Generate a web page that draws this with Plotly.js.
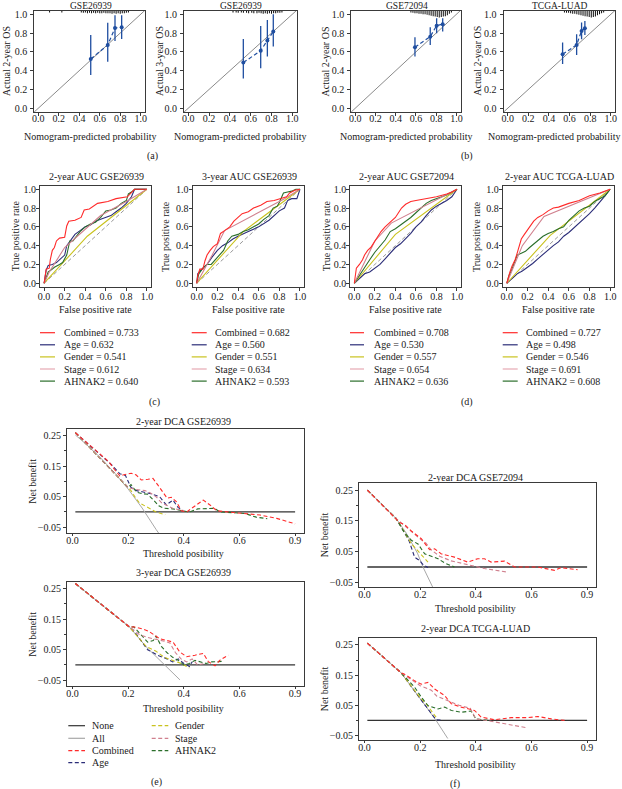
<!DOCTYPE html>
<html><head><meta charset="utf-8">
<script src="https://cdn.plot.ly/plotly-3.0.1.min.js"></script>
<style>body{margin:0;padding:0;background:#fff}#chart{width:622px;height:789px}</style>
</head><body><div id="chart"></div>
<script>
const W = 622, H = 789;
const FONT = 'Liberation Serif, Times New Roman, serif';

// ================= DATA =================
// (a)/(b) calibration
const calTitles = ['GSE26939', 'GSE26939', 'GSE72094', 'TCGA-LUAD'];
const calYTitles = ['Actual 2-year OS', 'Actual 3-year OS', 'Actual 2-year OS', 'Actual 2-year OS'];
const calPred1 = [0.512, 0.678, 0.749, 0.814], calObs1 = [0.524, 0.673, 0.854, 0.861], calLo1 = [0.354, 0.496, 0.716, 0.737], calHi1 = [0.78, 0.91, 0.99, 0.99];
const calPred2 = [0.529, 0.696, 0.760, 0.817], calObs2 = [0.486, 0.613, 0.720, 0.816], calLo2 = [0.316, 0.426, 0.550, 0.656], calHi2 = [0.738, 0.876, 0.940, 1.0];
const calPred3 = [0.590, 0.741, 0.804, 0.864], calObs3 = [0.649, 0.762, 0.879, 0.894], calLo3 = [0.550, 0.674, 0.798, 0.816], calHi3 = [0.755, 0.862, 0.957, 0.957];
const calPred4 = [0.532, 0.668, 0.716, 0.748], calObs4 = [0.574, 0.674, 0.823, 0.851], calLo4 = [0.472, 0.567, 0.734, 0.780], calHi4 = [0.699, 0.787, 0.911, 0.929];
// spike histograms of predicted probabilities (top rug)
const rug1X = [0.11, 0.23, 0.42, 0.44, 0.46, 0.48, 0.50, 0.52, 0.54, 0.56, 0.58, 0.60, 0.62, 0.64, 0.66, 0.68, 0.70, 0.72, 0.74, 0.76, 0.78, 0.80, 0.82, 0.84, 0.86, 0.88];
const rug1H = [0.02, 0.02, 0.02, 0.025, 0.02, 0.03, 0.025, 0.03, 0.025, 0.03, 0.025, 0.03, 0.03, 0.025, 0.03, 0.03, 0.03, 0.035, 0.03, 0.035, 0.03, 0.035, 0.03, 0.03, 0.025, 0.02];
const rug2X = [0.43, 0.46, 0.48, 0.51, 0.53, 0.56, 0.58, 0.61, 0.63, 0.66, 0.68, 0.70, 0.72, 0.74, 0.76, 0.78, 0.80, 0.82, 0.84, 0.86, 0.88, 0.90];
const rug2H = [0.02, 0.02, 0.025, 0.02, 0.025, 0.025, 0.03, 0.025, 0.03, 0.03, 0.025, 0.03, 0.035, 0.03, 0.035, 0.03, 0.035, 0.03, 0.03, 0.025, 0.025, 0.02];
const rug3X = [0.55, 0.57, 0.59, 0.61, 0.63, 0.65, 0.67, 0.69, 0.71, 0.73, 0.75, 0.77, 0.79, 0.81, 0.83, 0.85, 0.87, 0.89, 0.91, 0.93, 0.95];
const rug3H = [0.02, 0.025, 0.03, 0.03, 0.035, 0.035, 0.04, 0.04, 0.045, 0.05, 0.055, 0.06, 0.065, 0.07, 0.075, 0.07, 0.065, 0.06, 0.05, 0.035, 0.02];
const rug4X = [0.55, 0.57, 0.59, 0.61, 0.63, 0.65, 0.67, 0.69, 0.71, 0.73, 0.75, 0.77, 0.79, 0.81, 0.83, 0.85, 0.87, 0.89, 0.91, 0.93];
const rug4H = [0.02, 0.025, 0.025, 0.03, 0.035, 0.035, 0.04, 0.045, 0.05, 0.055, 0.06, 0.065, 0.07, 0.075, 0.07, 0.065, 0.05, 0.04, 0.03, 0.02];
const idealLine = [-0.05, 1.05];

// (c)/(d) ROC
const rocModels = ['Combined', 'Age', 'Gender', 'Stage', 'AHNAK2'];
const rocTitles = ['2-year AUC GSE26939', '3-year AUC GSE26939', '2-year AUC GSE72094', '2-year AUC TCGA-LUAD'];
const auc1 = ['0.733', '0.632', '0.541', '0.612', '0.640'];
const auc2 = ['0.682', '0.560', '0.551', '0.634', '0.593'];
const auc3 = ['0.708', '0.530', '0.557', '0.654', '0.636'];
const auc4 = ['0.727', '0.498', '0.546', '0.691', '0.608'];
const chanceLine = [0, 1];

const roc1Comb = [[0,0.01,0.02,0.05,0.06,0.08,0.10,0.12,0.15,0.20,0.22,0.24,0.30,0.36,0.39,0.44,0.52,0.62,0.70,0.81,0.86,0.88,1],
                  [0,0.08,0.15,0.16,0.25,0.35,0.38,0.45,0.48,0.49,0.61,0.66,0.67,0.70,0.78,0.79,0.85,0.87,0.90,0.92,0.97,1,1]];
const roc1Age = [[0,0.01,0.02,0.04,0.08,0.12,0.16,0.20,0.22,0.25,0.30,0.35,0.40,0.45,0.50,0.55,0.60,0.65,0.70,0.75,0.80,0.85,0.88,1],
                 [0,0.08,0.14,0.19,0.20,0.22,0.26,0.30,0.40,0.45,0.52,0.56,0.60,0.62,0.66,0.68,0.70,0.72,0.76,0.80,0.85,0.92,1,1]];
const roc1Gen = [[0,0.42,1],[0,0.50,1]];
const roc1Stg = [[0,0.05,0.20,0.55,0.80,1],[0,0.12,0.38,0.72,0.87,1]];
const roc1Ahn = [[0,0.02,0.04,0.08,0.10,0.15,0.18,0.22,0.25,0.28,0.30,0.35,0.40,0.45,0.50,0.55,0.60,0.65,0.70,0.75,0.80,0.82,0.85,0.88,1],
                 [0,0.06,0.12,0.15,0.17,0.20,0.22,0.30,0.45,0.45,0.48,0.55,0.60,0.63,0.65,0.70,0.77,0.78,0.80,0.85,0.88,0.95,0.97,1,1]];

const roc2Comb = [[0,0.01,0.03,0.06,0.08,0.10,0.13,0.16,0.20,0.23,0.27,0.32,0.36,0.40,0.44,0.50,0.55,0.62,0.68,0.75,0.81,0.87,0.90,0.95,1],
                  [0,0.08,0.15,0.15,0.24,0.30,0.35,0.39,0.42,0.53,0.56,0.60,0.66,0.70,0.74,0.76,0.80,0.83,0.87,0.88,0.90,0.92,0.96,0.99,1]];
const roc2Age = [[0,0.01,0.05,0.10,0.15,0.20,0.25,0.30,0.35,0.40,0.50,0.60,0.70,0.75,0.80,0.85,0.88,0.92,0.97,1],
                 [0,0.10,0.15,0.20,0.28,0.35,0.40,0.43,0.47,0.50,0.55,0.60,0.67,0.72,0.77,0.80,0.88,0.90,0.90,1]];
const roc2Gen = [[0,0.45,1],[0,0.55,1]];
const roc2Stg = [[0,0.05,0.15,0.27,0.85,1],[0,0.10,0.30,0.56,0.90,1]];
const roc2Ahn = [[0,0.02,0.06,0.10,0.14,0.18,0.22,0.26,0.30,0.34,0.40,0.45,0.50,0.55,0.60,0.65,0.70,0.74,0.78,0.80,0.84,0.88,0.92,0.96,1],
                 [0,0.10,0.16,0.20,0.20,0.25,0.30,0.35,0.45,0.50,0.52,0.55,0.57,0.60,0.63,0.68,0.72,0.80,0.82,0.86,0.96,0.97,0.98,1,1]];

const roc3Comb = [[0,0.01,0.02,0.05,0.08,0.10,0.13,0.16,0.20,0.23,0.26,0.30,0.33,0.36,0.40,0.43,0.46,0.50,0.55,0.60,0.65,0.70,0.80,0.90,0.95,1],
                  [0,0.10,0.16,0.20,0.25,0.30,0.35,0.38,0.45,0.50,0.55,0.60,0.63,0.65,0.70,0.75,0.80,0.84,0.87,0.88,0.89,0.90,0.92,0.95,0.97,1]];
const roc3Age = [[0,0.03,0.06,0.10,0.15,0.20,0.25,0.30,0.35,0.40,0.45,0.50,0.55,0.60,0.65,0.70,0.75,0.80,0.85,0.90,0.95,1],
                 [0,0.03,0.07,0.10,0.12,0.16,0.20,0.26,0.32,0.38,0.42,0.47,0.53,0.60,0.65,0.72,0.78,0.82,0.85,0.88,0.92,1]];
const roc3Gen = [[0,0.40,1],[0,0.52,1]];
const roc3Stg = [[0,0.20,0.36,0.95,1],[0,0.45,0.64,0.97,1]];
const roc3Ahn = [[0,0.03,0.06,0.10,0.15,0.20,0.25,0.30,0.35,0.40,0.45,0.50,0.55,0.60,0.65,0.70,0.75,0.80,0.85,0.90,0.95,1],
                 [0,0.05,0.10,0.18,0.25,0.33,0.40,0.46,0.55,0.58,0.62,0.66,0.70,0.75,0.80,0.85,0.88,0.90,0.92,0.94,0.97,1]];

const roc4Comb = [[0,0.01,0.03,0.05,0.08,0.10,0.12,0.14,0.17,0.20,0.23,0.26,0.30,0.35,0.40,0.45,0.50,0.55,0.60,0.70,0.80,0.90,0.95,1],
                  [0,0.05,0.12,0.18,0.25,0.32,0.40,0.47,0.52,0.57,0.62,0.66,0.70,0.73,0.77,0.80,0.81,0.83,0.85,0.88,0.93,0.96,0.98,1]];
const roc4Age = [[0,0.05,0.10,0.15,0.20,0.25,0.30,0.35,0.40,0.45,0.50,0.55,0.60,0.65,0.70,0.75,0.80,0.85,0.90,0.95,1],
                 [0,0.05,0.10,0.13,0.17,0.21,0.26,0.31,0.36,0.40,0.44,0.50,0.54,0.59,0.63,0.69,0.74,0.80,0.86,0.93,1]];
const roc4Gen = [[0,0.42,1],[0,0.51,1]];
const roc4Stg = [[0,0.15,0.36,1],[0,0.40,0.71,1]];
const roc4Ahn = [[0,0.02,0.05,0.08,0.10,0.14,0.18,0.22,0.26,0.30,0.35,0.40,0.45,0.50,0.55,0.60,0.65,0.70,0.75,0.80,0.85,0.90,0.95,1],
                 [0,0.08,0.15,0.25,0.30,0.32,0.34,0.38,0.42,0.45,0.50,0.53,0.55,0.58,0.60,0.67,0.72,0.77,0.80,0.82,0.87,0.90,0.93,1]];

// (e)/(f) decision curves
const dcaTitles = ['2-year DCA GSE26939', '3-year DCA GSE26939', '2-year DCA GSE72094', '2-year DCA TCGA-LUAD'];
const dcaTickVals = [0, 0.2, 0.4, 0.6, 0.8];
const dcaTickText = ['0.0', '0.2', '0.4', '0.6', '0.9'];
const dcaYTicks = [-0.05, 0.05, 0.15, 0.25];
const dcaYTickText = ['\u22120.05', '0.05', '0.15', '0.25'];
const dcaNone = [[0.01, 0.8], [0, 0]];

const dca1All = [[0.01,0.05,0.10,0.15,0.20,0.25,0.30,0.31],[0.2525,0.221,0.178,0.129,0.075,0.013,-0.057,-0.07]];
const dca1Comb = [[0.01,0.13,0.15,0.17,0.181,0.211,0.229,0.247,0.271,0.289,0.307,0.325,0.34,0.355,0.373,0.391,0.41,0.445,0.47,0.494,0.518,0.578,0.674,0.734,0.80],
                  [0.26,0.165,0.14,0.118,0.121,0.127,0.121,0.105,0.107,0.11,0.088,0.066,0.045,0.048,0.034,0.004,0.0,0.023,0.039,0.023,0.004,-0.002,-0.01,-0.021,-0.039]];
const dca1Age = [[0.01,0.14,0.17,0.19,0.21,0.23,0.25,0.277,0.313,0.337,0.361,0.379,0.397],
                 [0.26,0.155,0.125,0.12,0.08,0.07,0.066,0.061,0.05,0.023,0.039,0.015,0.004]];
const dca1Gen = [[0.01,0.20,0.21,0.22,0.24,0.26,0.28,0.30,0.333],[0.26,0.08,0.07,0.055,0.03,0.02,0.01,0.0,-0.009]];
const dca1Stg = [[0.01,0.20,0.22,0.24,0.26,0.28,0.30,0.32,0.34,0.36,0.38,0.40],[0.26,0.08,0.075,0.072,0.07,0.062,0.05,0.03,0.02,0.012,0.008,0.005]];
const dca1Ahn = [[0.01,0.20,0.21,0.23,0.25,0.27,0.29,0.31,0.33,0.36,0.39,0.42,0.45,0.48,0.51,0.53,0.58,0.62,0.66,0.70],
                 [0.26,0.08,0.09,0.065,0.06,0.058,0.04,0.02,0.012,0.01,0.005,0.0,0.01,0.012,0.012,0.0,-0.002,-0.005,-0.017,-0.022]];

const dca2All = [[0.01,0.10,0.205,0.265,0.331,0.386],[0.267,0.2,0.124,0.059,0.0,-0.049]];
const dca2Comb = [[0.01,0.205,0.22,0.253,0.275,0.295,0.313,0.34,0.361,0.385,0.41,0.44,0.47,0.488,0.512,0.53,0.56],
                  [0.267,0.124,0.125,0.118,0.11,0.097,0.086,0.08,0.075,0.043,0.027,0.032,0.038,0.011,-0.003,0.016,0.032]];
const dca2Age = [[0.01,0.205,0.23,0.25,0.27,0.29,0.31,0.34,0.36,0.38,0.40,0.42,0.43],[0.267,0.124,0.1,0.075,0.05,0.04,0.03,0.02,0.01,0.02,0.005,-0.005,0.01]];
const dca2Gen = [[0.01,0.205,0.265,0.30,0.33,0.36,0.39,0.42],[0.267,0.124,0.06,0.045,0.025,0.015,0.005,-0.01]];
const dca2Stg = [[0.01,0.205,0.24,0.27,0.30,0.33,0.35,0.37,0.39,0.41,0.43,0.45,0.47],[0.267,0.124,0.1,0.09,0.085,0.078,0.072,0.04,0.02,0.01,0.02,0.0,0.004]];
const dca2Ahn = [[0.01,0.205,0.22,0.25,0.27,0.29,0.30,0.32,0.34,0.36,0.38,0.40,0.42,0.44,0.46,0.48,0.50,0.52,0.54],
                 [0.267,0.124,0.125,0.095,0.075,0.08,0.095,0.06,0.04,0.025,0.015,0.0,0.005,0.015,0.01,0.005,0.01,0.01,0.012]];

const dca3All = [[0.01,0.114,0.15,0.19,0.21,0.25],[0.25,0.157,0.11,0.045,0.0,-0.075]];
const dca3Comb = [[0.01,0.114,0.125,0.144,0.168,0.204,0.234,0.252,0.275,0.323,0.371,0.407,0.431,0.455,0.503,0.539,0.623,0.683,0.706,0.766],
                  [0.25,0.157,0.145,0.138,0.117,0.092,0.056,0.059,0.043,0.032,0.016,0.027,0.027,0.016,0.019,0.0,0.0,-0.011,-0.002,-0.009]];
const dca3Age = [[0.01,0.114,0.16,0.18,0.198,0.21,0.228],[0.25,0.157,0.085,0.032,0.021,0.008,-0.002]];
const dca3Gen = [[0.01,0.114,0.168,0.204,0.228],[0.25,0.157,0.076,0.038,0.016]];
const dca3Stg = [[0.01,0.114,0.15,0.18,0.204,0.22,0.239,0.27,0.311,0.35,0.383,0.431,0.508],[0.25,0.157,0.13,0.105,0.088,0.078,0.056,0.035,0.02,0.012,0.006,-0.005,-0.016]];
const dca3Ahn = [[0.01,0.114,0.144,0.168,0.192,0.216,0.24,0.264,0.288,0.323],[0.25,0.157,0.111,0.087,0.075,0.043,0.035,0.027,0.013,0.0]];

const dca4All = [[0.01,0.131,0.20,0.257,0.299],[0.256,0.158,0.072,0.0,-0.06]];
const dca4Comb = [[0.01,0.131,0.144,0.18,0.204,0.228,0.252,0.288,0.312,0.347,0.395,0.419,0.467,0.527,0.587,0.623,0.671,0.719],
                  [0.256,0.158,0.153,0.131,0.12,0.126,0.104,0.082,0.055,0.044,0.033,0.011,0.002,0.009,0.009,0.013,0.005,0.0]];
const dca4Age = [[0.01,0.131,0.20,0.24,0.257,0.281],[0.256,0.158,0.072,0.022,0.002,0.001]];
const dca4Gen = [[0.01,0.131,0.20,0.221,0.239,0.257],[0.256,0.158,0.075,0.055,0.033,0.011]];
const dca4Stg = [[0.01,0.131,0.16,0.20,0.24,0.26,0.30,0.34,0.38,0.40,0.45,0.50,0.55,0.58],[0.256,0.158,0.14,0.115,0.1,0.08,0.065,0.05,0.04,0.005,-0.002,-0.01,-0.018,-0.024]];
const dca4Ahn = [[0.01,0.131,0.18,0.204,0.228,0.264,0.288,0.312,0.347,0.383,0.40,0.443],[0.256,0.158,0.11,0.077,0.049,0.038,0.044,0.033,0.027,0.031,0.005,0.0]];

const dcaLegendCol1 = ['None', 'All', 'Combined', 'Age'];
const dcaLegendCol2 = ['Gender', 'Stage', 'AHNAK2'];

// ================= STYLE =================
const COL = {Combined: '#ff2a2a', Age: '#2b2d78', Gender: '#c9c21e', Stage: '#d0808e', AHNAK2: '#2a6e2a',
             None: '#333333', All: '#a8a8a8'};
const BLUE = '#1f4ea0';
const TXT = '#1a1a1a';
const DASH = '4px,2.5px';

const px2x = p => p / W;
const px2y = p => 1 - p / H;

const layout = {
  width: W, height: H, margin: {l: 0, r: 0, t: 0, b: 0},
  paper_bgcolor: '#fff', plot_bgcolor: '#fff', showlegend: false,
  font: {family: FONT, size: 10, color: TXT},
  barmode: 'overlay', annotations: [], shapes: []
};
const traces = [];

function setAxes(n, xpx, ypx, xr, yr, xo, yo) {
  const base = {showline: true, mirror: true, linecolor: '#3a3a3a', linewidth: 1, showgrid: false,
                zeroline: false, ticks: 'outside', ticklen: 3, tickwidth: 1, tickcolor: '#3a3a3a',
                tickfont: {family: FONT, size: 10, color: TXT}, fixedrange: true};
  layout['xaxis' + (n === 1 ? '' : n)] = Object.assign({}, base, {
    domain: [px2x(xpx[0]), px2x(xpx[1])], range: xr, anchor: 'y' + (n === 1 ? '' : n)}, xo || {});
  layout['yaxis' + (n === 1 ? '' : n)] = Object.assign({}, base, {
    domain: [px2y(ypx[1]), px2y(ypx[0])], range: yr, anchor: 'x' + (n === 1 ? '' : n)}, yo || {});
}
function ann(text, x, y, o) {
  layout.annotations.push(Object.assign({text, x: px2x(x), y: px2y(y), xref: 'paper', yref: 'paper',
    showarrow: false, xanchor: 'center', yanchor: 'middle', font: {family: FONT, size: 10, color: TXT}}, o || {}));
}
function legLine(x0, x1, y, color, dash) {
  layout.shapes.push({type: 'line', xref: 'paper', yref: 'paper', x0: px2x(x0), x1: px2x(x1), y0: px2y(y), y1: px2y(y),
    line: {color, width: 1.2, dash: dash || 'solid'}});
}
const ax = n => n === 1 ? ['x', 'y'] : ['x' + n, 'y' + n];

// ---------- calibration ----------
const calData = [
  [calPred1, calObs1, calLo1, calHi1, rug1X, rug1H],
  [calPred2, calObs2, calLo2, calHi2, rug2X, rug2H],
  [calPred3, calObs3, calLo3, calHi3, rug3X, rug3H],
  [calPred4, calObs4, calLo4, calHi4, rug4X, rug4H]];
const calX = [[34.2, 144.8], [184.1, 296.5], [351.2, 460.5], [503.6, 615]];
const calYtitleX = [6, 159, 324.5, 476.7];
const calTickVals = [0, 0.2, 0.4, 0.6, 0.8, 1.0];
calData.forEach((d, i) => {
  const n = i + 1; const [xa, ya] = ax(n);
  setAxes(n, calX[i], [10.5, 112], [-0.04, 1.04], [-0.04, 1.04],
    {tickvals: calTickVals, tickformat: '.1f', ticklabelstandoff: -6},
    {tickvals: calTickVals, tickformat: '.1f', ticklabelstandoff: 1});
  traces.push({type: 'scatter', mode: 'lines', x: idealLine, y: idealLine, xaxis: xa, yaxis: ya,
    line: {color: '#8a8a8a', width: 1}, hoverinfo: 'skip'});
  traces.push({type: 'bar', x: d[4], y: d[5].map(h => -h), base: 1.04, width: 0.01, xaxis: xa, yaxis: ya,
    marker: {color: '#111', line: {width: 0}}, cliponaxis: false, hoverinfo: 'skip'});
  traces.push({type: 'scatter', mode: 'lines+markers', x: d[0], y: d[1], xaxis: xa, yaxis: ya,
    line: {color: BLUE, width: 1.2, dash: DASH}, marker: {color: BLUE, size: 4},
    error_y: {type: 'data', symmetric: false, array: d[3].map((h, k) => h - d[1][k]),
      arrayminus: d[2].map((l, k) => d[1][k] - l), width: 0, thickness: 1.3, color: BLUE}});
  const cx = (calX[i][0] + calX[i][1]) / 2;
  ann(calTitles[i], cx + 1, 0, {yanchor: 'top', borderpad: 0, font: {family: FONT, size: 9.5, color: TXT}});
  ann(calYTitles[i], calYtitleX[i], 61, {textangle: -90});
  if (i === 3) ann('Nomogram-predicted probability', 621, 136.7, {xanchor: 'right', borderpad: 0});
  else ann('Nomogram-predicted probability', cx, 136.7);
});
ann('(a)', 152, 155.7); ann('(b)', 466.7, 155.7);

// ---------- ROC ----------
const rocData = [
  [roc1Comb, roc1Age, roc1Gen, roc1Stg, roc1Ahn, auc1],
  [roc2Comb, roc2Age, roc2Gen, roc2Stg, roc2Ahn, auc2],
  [roc3Comb, roc3Age, roc3Gen, roc3Stg, roc3Ahn, auc3],
  [roc4Comb, roc4Age, roc4Gen, roc4Stg, roc4Ahn, auc4]];
const rocX = [[40, 151], [192.6, 304.1], [350.2, 461.1], [502.7, 614.3]];
const rocYtitleX = [15, 165.7, 326, 476.7];
const rocLegLine = [[40, 55, 62.3], [191.7, 206.7, 213.3], [350, 364, 371.7], [502.7, 517.7, 524.3]];
const rocLegY = [332.7, 344.8, 356.9, 369, 381.1];
rocData.forEach((d, i) => {
  const n = i + 5; const [xa, ya] = ax(n);
  setAxes(n, rocX[i], [185.5, 287], [-0.04, 1.04], [-0.04, 1.04],
    {tickvals: calTickVals, tickformat: '.1f', ticklabelstandoff: -3},
    {tickvals: calTickVals, tickformat: '.1f', ticklabelstandoff: -2});
  traces.push({type: 'scatter', mode: 'lines', x: chanceLine, y: chanceLine, xaxis: xa, yaxis: ya,
    line: {color: '#9a9a9a', width: 1, dash: DASH}, hoverinfo: 'skip'});
  // draw order: Age, Gender, AHNAK2, Stage, Combined
  [1, 2, 4, 3, 0].forEach(k => {
    traces.push({type: 'scatter', mode: 'lines', x: d[k][0], y: d[k][1], xaxis: xa, yaxis: ya,
      name: rocModels[k], line: {color: COL[rocModels[k]], width: 1.1}});
  });
  const cx = (rocX[i][0] + rocX[i][1]) / 2;
  ann(rocTitles[i], cx + 1, 176);
  ann('False positive rate', cx, 309);
  ann('True positive rate', rocYtitleX[i], 236.3, {textangle: -90});
  rocModels.forEach((m, k) => {
    const lc = m === 'Stage' ? '#e6a9b2' : COL[m];
    legLine(rocLegLine[i][0], rocLegLine[i][1], rocLegY[k], lc);
    ann(m + ' = ' + d[5][k], rocLegLine[i][2], rocLegY[k], {xanchor: 'left'});
  });
});
ann('(c)', 154, 402.3); ann('(d)', 466.7, 402.3);

// ---------- DCA ----------
const dcaData = [
  [dca1All, dca1Comb, dca1Age, dca1Gen, dca1Stg, dca1Ahn],
  [dca2All, dca2Comb, dca2Age, dca2Gen, dca2Stg, dca2Ahn],
  [dca3All, dca3Comb, dca3Age, dca3Gen, dca3Stg, dca3Ahn],
  [dca4All, dca4Comb, dca4Age, dca4Gen, dca4Stg, dca4Ahn]];
const dcaBox = [[[67, 304], [429, 533]], [[67, 304], [582, 686]], [[359, 596], [483, 587]], [[359, 596], [638, 740]]];
const dcaYr = [[-0.069, 0.272], [-0.069, 0.272], [-0.065, 0.273], [-0.065, 0.273]];
const dcaTitleY = [421, 572.7, 477.7, 628.3];
const dcaXtitleY = [553.3, 708.3, 608.5, 764];
const dcaYtitleX = [31.7, 31.7, 324.3, 324.3];
const dcaModels = ['Combined', 'Age', 'Gender', 'Stage', 'AHNAK2'];
dcaData.forEach((d, i) => {
  const n = i + 9; const [xa, ya] = ax(n);
  setAxes(n, dcaBox[i][0], dcaBox[i][1], [-0.02, 0.832], dcaYr[i],
    {tickvals: dcaTickVals, ticktext: dcaTickText, ticklen: 2, ticklabelstandoff: -4},
    {tickvals: dcaYTicks, ticktext: dcaYTickText, ticklabelstandoff: 0,
     minor: {tickvals: [0.0, 0.1, 0.2], ticks: 'outside', ticklen: 2, tickcolor: '#3a3a3a'}});
  traces.push({type: 'scatter', mode: 'lines', x: dcaNone[0], y: dcaNone[1], xaxis: xa, yaxis: ya,
    line: {color: COL.None, width: 1.3}, name: 'None'});
  traces.push({type: 'scatter', mode: 'lines', x: d[0][0], y: d[0][1], xaxis: xa, yaxis: ya,
    line: {color: COL.All, width: 1}, name: 'All'});
  [2, 3, 5, 4, 1].forEach(k => {
    const m = dcaModels[k - 1];
    traces.push({type: 'scatter', mode: 'lines', x: d[k][0], y: d[k][1], xaxis: xa, yaxis: ya,
      name: m, line: {color: COL[m], width: 1.1, dash: DASH}});
  });
  const cx = (dcaBox[i][0][0] + dcaBox[i][0][1]) / 2;
  ann(dcaTitles[i], cx - 2, dcaTitleY[i]);
  ann('Threshold posibility', cx - 2, dcaXtitleY[i]);
  ann('Net benefit', dcaYtitleX[i], (dcaBox[i][1][0] + dcaBox[i][1][1]) / 2, {textangle: -90});
});
// DCA legend (e)
const dcaLegY = [725.7, 738.3, 750.7, 762.7];
dcaLegendCol1.forEach((m, k) => {
  legLine(68.3, 85, dcaLegY[k], COL[m], (m === 'None' || m === 'All') ? 'solid' : DASH);
  ann(m, 90, dcaLegY[k], {xanchor: 'left'});
});
dcaLegendCol2.forEach((m, k) => {
  legLine(151.7, 168.3, dcaLegY[k], COL[m], DASH);
  ann(m, 173.3, dcaLegY[k], {xanchor: 'left'});
});
ann('(e)', 156.7, 781.7); ann('(f)', 455, 784);

Plotly.newPlot('chart', traces, layout, {displayModeBar: false, staticPlot: true});
</script>
</body></html>
